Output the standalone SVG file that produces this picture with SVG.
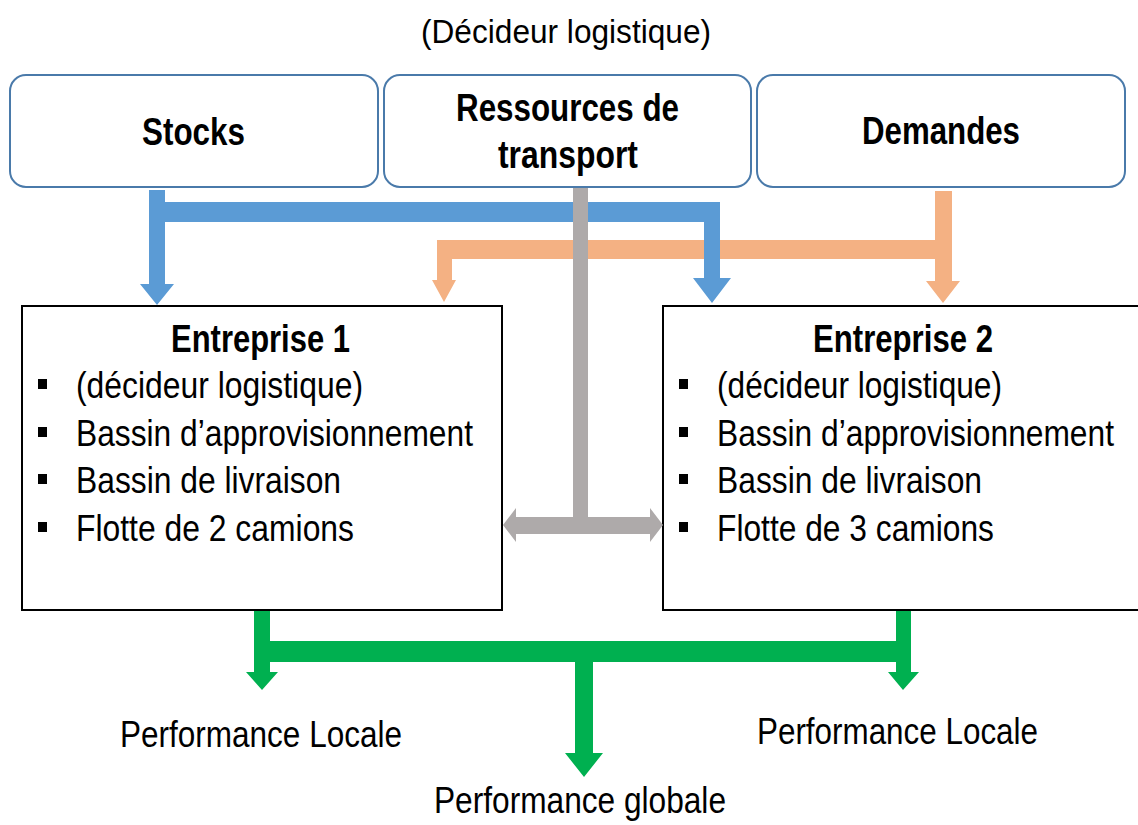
<svg xmlns="http://www.w3.org/2000/svg" width="1138" height="825" viewBox="0 0 1138 825">
<style>
text{font-family:"Liberation Sans",Arial,sans-serif;fill:#000}
.t{font-size:37px}
.b{font-size:38px;font-weight:bold}
.h{font-size:34px}
.top{fill:#fff;stroke:#4a7aaa;stroke-width:2}
.ent{fill:#fff;stroke:#000;stroke-width:2}
.bul{fill:#000}
</style>
<rect width="1138" height="825" fill="#fff"/>
<text class="h" x="421" y="43" textLength="290" lengthAdjust="spacingAndGlyphs">(Décideur logistique)</text>
<g id="stocks">
<rect class="top" x="10" y="75" width="368" height="112" rx="16"/>
<text class="b" x="142" y="145" textLength="103" lengthAdjust="spacingAndGlyphs">Stocks</text>
</g>
<g id="ressources">
<rect class="top" x="384" y="75" width="367" height="112" rx="16"/>
<text class="b" x="456" y="121" textLength="223" lengthAdjust="spacingAndGlyphs">Ressources de</text>
<text class="b" x="498" y="168" textLength="140" lengthAdjust="spacingAndGlyphs">transport</text>
</g>
<g id="demandes">
<rect class="top" x="757" y="75" width="368" height="112" rx="16"/>
<text class="b" x="862" y="144" textLength="158" lengthAdjust="spacingAndGlyphs">Demandes</text>
</g>
<g id="entreprise1">
<rect class="ent" x="22" y="306" width="480" height="304"/>
<text class="b" x="171" y="352" textLength="179" lengthAdjust="spacingAndGlyphs">Entreprise 1</text>
<rect class="bul" x="38" y="379" width="9" height="10"/>
<rect class="bul" x="38" y="427" width="9" height="10"/>
<rect class="bul" x="38" y="474" width="9" height="10"/>
<rect class="bul" x="38" y="522" width="9" height="10"/>
<text class="t" x="76" y="398" textLength="287" lengthAdjust="spacingAndGlyphs">(décideur logistique)</text>
<text class="t" x="76" y="446" textLength="397" lengthAdjust="spacingAndGlyphs">Bassin d’approvisionnement</text>
<text class="t" x="76" y="493" textLength="265" lengthAdjust="spacingAndGlyphs">Bassin de livraison</text>
<text class="t" x="76" y="541" textLength="278" lengthAdjust="spacingAndGlyphs">Flotte de 2 camions</text>
</g>
<g id="entreprise2">
<path class="ent" d="M1138,306 H663 V610 H1138"/>
<text class="b" x="813" y="352" textLength="180" lengthAdjust="spacingAndGlyphs">Entreprise 2</text>
<rect class="bul" x="679" y="379" width="9" height="10"/>
<rect class="bul" x="679" y="427" width="9" height="10"/>
<rect class="bul" x="679" y="474" width="9" height="10"/>
<rect class="bul" x="679" y="522" width="9" height="10"/>
<text class="t" x="717" y="398" textLength="285" lengthAdjust="spacingAndGlyphs">(décideur logistique)</text>
<text transform="translate(717,446) scale(1,1.16)" style="font-size:32px" x="0" y="0" textLength="397" lengthAdjust="spacingAndGlyphs">Bassin d’approvisionnement</text>
<text class="t" x="717" y="493" textLength="265" lengthAdjust="spacingAndGlyphs">Bassin de livraison</text>
<text class="t" x="717" y="541" textLength="277" lengthAdjust="spacingAndGlyphs">Flotte de 3 camions</text>
</g>
<g id="connectors">
<polygon fill="#F4B183" points="935,191 952,191 952,281 960,281 943,303 926,281 935,281 935,259 452,259 452,280 456,280 444,302 432,280 437,280 437,240 935,240"/>
<polygon fill="#5B9BD5" points="149,190 165,190 165,202 720,202 720,278 731,278 712,303 693,278 704,278 704,222 165,222 165,284 174,284 157,305 140,284 149,284"/>
<polygon fill="#AEAAAA" points="573,188 588,188 588,517 650,517 650,508 663,525 650,542 650,534 516,534 516,542 503,525 516,508 516,517 573,517"/>
<polygon fill="#00B050" points="254,611 270,611 270,641 896,641 896,611 911,611 911,672 919,672 903,690 888,672 896,672 896,662 593,662 593,753 603,753 584,777 565,753 575,753 575,662 270,662 270,672 278,672 262,690 246,672 254,672"/>
</g>
<g id="outputs">
<text class="t" x="120" y="747" textLength="282" lengthAdjust="spacingAndGlyphs">Performance Locale</text>
<text class="t" x="757" y="744" textLength="281" lengthAdjust="spacingAndGlyphs">Performance Locale</text>
<text class="t" x="434" y="813" textLength="292" lengthAdjust="spacingAndGlyphs">Performance globale</text>
</g>
</svg>
